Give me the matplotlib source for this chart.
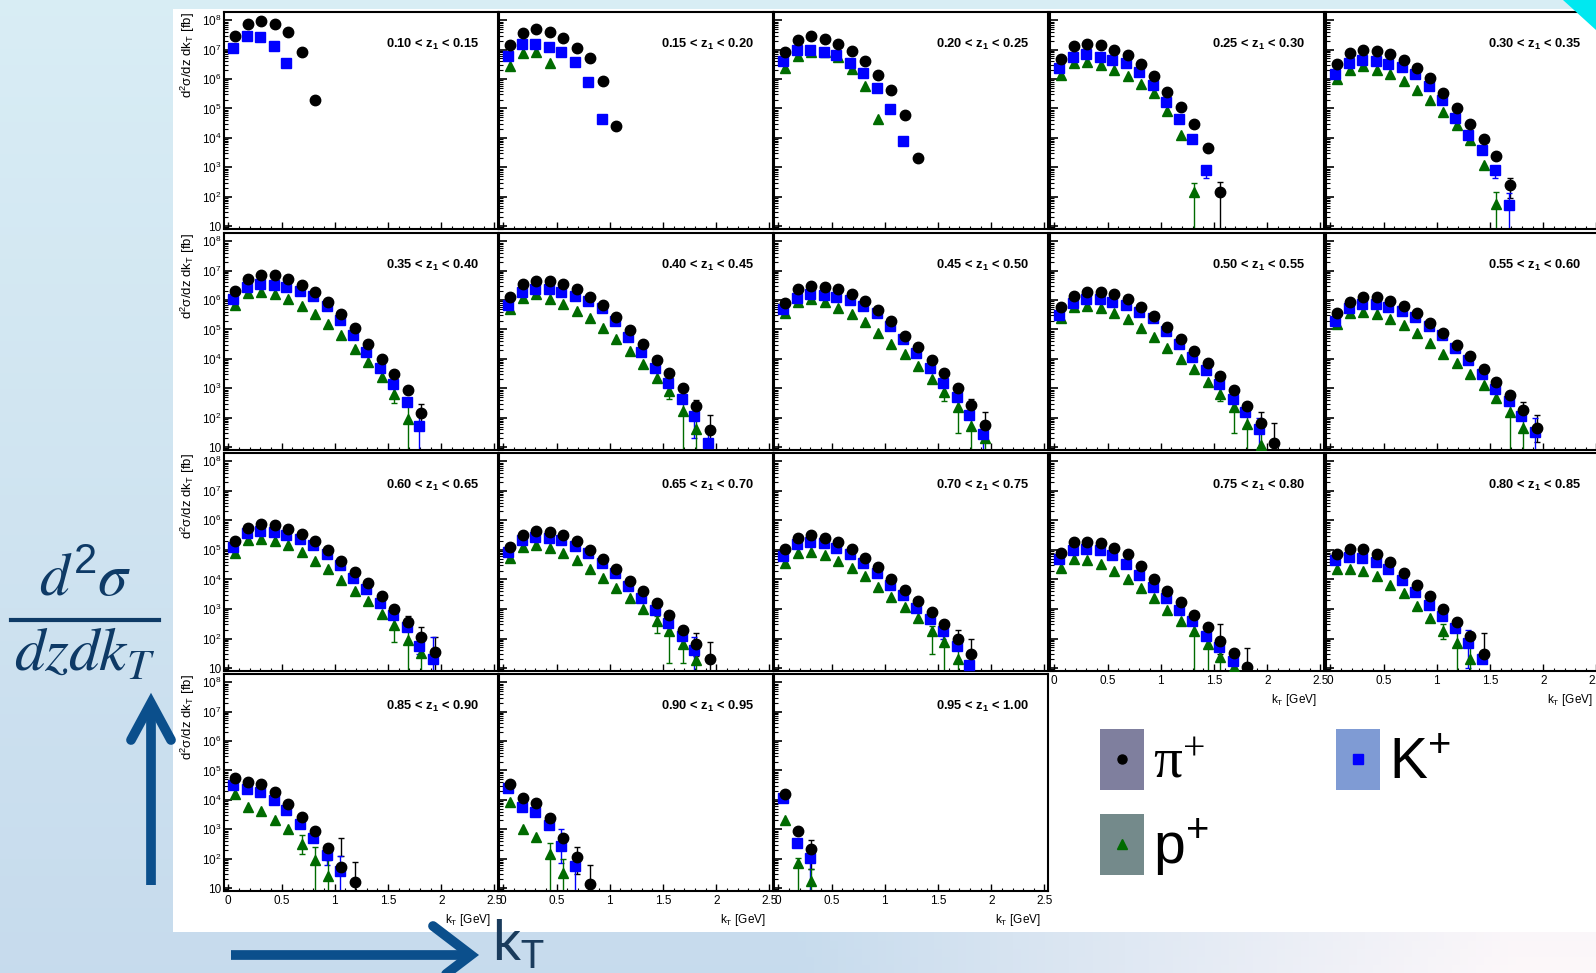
import numpy as np
import matplotlib
matplotlib.use("Agg")
import matplotlib.pyplot as plt
from matplotlib.lines import Line2D
from matplotlib.patches import Rectangle, Polygon
from matplotlib.ticker import LogLocator, MultipleLocator, FuncFormatter, NullFormatter

# ---------------- DATA ----------------

Z_EDGES = ["0.10", "0.15", "0.20", "0.25", "0.30", "0.35", "0.40", "0.45", "0.50", "0.55",
           "0.60", "0.65", "0.70", "0.75", "0.80", "0.85", "0.90", "0.95", "1.00"]

KT_BINS = [0.06, 0.19, 0.31, 0.44, 0.56, 0.69, 0.81, 0.94, 1.06,
           1.19, 1.31, 1.44, 1.56, 1.69, 1.81, 1.94, 2.06]

# d2sigma/dz dkT [fb], one list per z bin
PION = [
    [2.8e7, 7.7e7, 9.3e7, 7.7e7, 4.0e7, 8.5e6, 2.0e5],
    [1.4e7, 3.7e7, 4.9e7, 4.0e7, 2.5e7, 1.15e7, 5.0e6, 8.3e5, 2.6e4],
    [8.6e6, 2.1e7, 2.9e7, 2.3e7, 1.6e7, 8.9e6, 4.0e6, 1.4e6, 4.1e5, 6.0e4, 2.0e3],
    [4.9e6, 1.3e7, 1.6e7, 1.4e7, 1.0e7, 6.6e6, 3.3e6, 1.3e6, 3.7e5, 1.1e5, 3.0e4, 4.6e3, 150],
    [3.2e6, 7.5e6, 9.8e6, 9.0e6, 6.9e6, 4.4e6, 2.3e6, 1.05e6, 3.4e5, 1.0e5, 2.9e4, 9.3e3, 2.4e3, 250],
    [2.1e6, 5.2e6, 6.9e6, 6.9e6, 5.2e6, 3.3e6, 1.9e6, 8.9e5, 3.4e5, 1.1e5, 3.2e4, 1.0e4, 3.0e3, 850, 145],
    [1.26e6, 3.6e6, 4.5e6, 4.3e6, 3.5e6, 2.3e6, 1.3e6, 6.8e5, 2.6e5, 9.3e4, 3.1e4, 9.4e3, 3.3e3, 1.0e3, 245, 39],
    [8.2e5, 2.4e6, 3.0e6, 2.7e6, 2.3e6, 1.6e6, 9.3e5, 4.6e5, 2.0e5, 6.1e4, 2.6e4, 8.9e3, 3.2e3, 1.0e3, 275, 58],
    [6.0e5, 1.4e6, 1.9e6, 1.9e6, 1.6e6, 1.07e6, 6.0e5, 2.9e5, 1.2e5, 4.9e4, 1.9e4, 7.4e3, 2.6e3, 850, 245, 65, 14],
    [3.7e5, 8.9e5, 1.25e6, 1.25e6, 9.3e5, 6.3e5, 3.5e5, 1.7e5, 7.3e4, 2.9e4, 1.26e4, 4.7e3, 1.7e3, 600, 183, 45],
    [2.0e5, 5.7e5, 7.5e5, 6.9e5, 5.0e5, 3.4e5, 2.0e5, 1.0e5, 4.2e4, 1.8e4, 7.7e3, 2.8e3, 1.0e3, 350, 112, 36],
    [1.3e5, 3.2e5, 4.5e5, 4.1e5, 3.2e5, 2.0e5, 1.0e5, 5.0e4, 2.3e4, 8.7e3, 4.2e3, 1.6e3, 640, 200, 66, 20],
    [1.05e5, 2.6e5, 3.2e5, 2.6e5, 1.9e5, 1.1e5, 5.5e4, 2.6e4, 1.05e4, 4.5e3, 1.9e3, 800, 310, 98, 30],
    [7.7e4, 1.8e5, 1.9e5, 1.7e5, 1.2e5, 7.1e4, 2.8e4, 1.05e4, 4.0e3, 1.7e3, 640, 245, 86, 32, 11],
    [7.1e4, 1.1e5, 1.05e5, 7.1e4, 3.9e4, 1.7e4, 6.7e3, 2.7e3, 1.0e3, 350, 126, 29],
    [5.6e4, 4.1e4, 3.4e4, 1.8e4, 7.2e3, 2.6e3, 850, 240, 51, 16],
    [3.6e4, 1.2e4, 7.6e3, 2.4e3, 505, 116, 14],
    [1.6e4, 875, 220],
]

KAON = [
    [1.1e7, 2.8e7, 2.6e7, 1.3e7, 3.4e6],
    [6.0e6, 1.5e7, 1.6e7, 1.2e7, 8.3e6, 3.9e6, 8.1e5, 4.4e4],
    [4.1e6, 9.8e6, 1.0e7, 8.5e6, 6.6e6, 3.6e6, 1.6e6, 5.0e5, 9.3e4, 8.1e3],
    [2.4e6, 5.8e6, 7.1e6, 5.8e6, 4.4e6, 3.4e6, 1.7e6, 6.3e5, 1.7e5, 4.5e4, 9.3e3, 780],
    [1.45e6, 3.6e6, 4.5e6, 4.1e6, 3.3e6, 2.5e6, 1.45e6, 6.0e5, 2.0e5, 4.8e4, 1.3e4, 4.0e3, 800, 52],
    [1.1e6, 2.8e6, 3.5e6, 3.3e6, 2.8e6, 2.0e6, 1.35e6, 6.5e5, 2.1e5, 6.4e4, 1.7e4, 5.0e3, 1.35e3, 330, 52],
    [6.8e5, 1.85e6, 2.3e6, 2.3e6, 1.85e6, 1.4e6, 9.3e5, 5.3e5, 2.0e5, 5.6e4, 1.7e4, 5.0e3, 1.5e3, 440, 118, 14],
    [5.0e5, 1.2e6, 1.6e6, 1.5e6, 1.25e6, 1.0e6, 6.5e5, 3.5e5, 1.35e5, 4.9e4, 1.6e4, 5.0e3, 1.5e3, 500, 124, 28],
    [3.2e5, 8.1e5, 1.07e6, 1.07e6, 8.9e5, 6.8e5, 4.0e5, 2.4e5, 9.1e4, 3.2e4, 1.2e4, 4.1e3, 1.4e3, 440, 152, 41],
    [2.0e5, 5.5e5, 7.4e5, 7.4e5, 6.0e5, 4.4e5, 2.7e5, 1.35e5, 6.4e4, 2.4e4, 9.0e3, 3.0e3, 960, 360, 118, 32],
    [1.3e5, 3.6e5, 4.5e5, 4.1e5, 3.2e5, 2.3e5, 1.5e5, 7.1e4, 3.1e4, 1.15e4, 4.8e3, 1.6e3, 630, 255, 56, 20],
    [8.7e4, 2.1e5, 2.8e5, 2.6e5, 2.1e5, 1.4e5, 7.8e4, 3.7e4, 1.6e4, 6.2e3, 2.4e3, 950, 335, 123, 41],
    [6.3e4, 1.56e5, 1.9e5, 1.7e5, 1.2e5, 7.1e4, 3.7e4, 1.6e4, 6.7e3, 2.9e3, 1.08e3, 455, 175, 57, 13],
    [5.0e4, 1.0e5, 1.1e5, 1.0e5, 6.7e4, 3.3e4, 1.4e4, 5.6e3, 2.4e3, 900, 380, 126, 53, 18],
    [4.6e4, 5.9e4, 5.5e4, 3.9e4, 2.2e4, 9.3e3, 3.7e3, 1.4e3, 560, 228, 70, 20],
    [3.2e4, 2.3e4, 1.8e4, 1.0e4, 4.5e3, 1.5e3, 500, 138, 38],
    [2.6e4, 5.9e3, 3.8e3, 1.36e3, 272, 58],
    [1.2e4, 340, 102],
]

PROTON = [
    [],
    [2.8e6, 7.9e6, 8.3e6, 3.6e6],
    [2.4e6, 6.1e6, 8.5e6, 8.5e6, 5.7e6, 2.2e6, 6.0e5, 4.5e4],
    [1.4e6, 3.4e6, 3.9e6, 3.1e6, 2.1e6, 1.3e6, 7.0e5, 3.3e5, 8.5e4, 1.3e4, 150],
    [9.8e5, 2.1e6, 2.8e6, 2.1e6, 1.45e6, 8.6e5, 4.1e5, 1.9e5, 7.5e4, 2.8e4, 8.7e3, 1.2e3, 58],
    [6.7e5, 1.7e6, 1.95e6, 1.6e6, 1.07e6, 6.5e5, 3.3e5, 1.5e5, 6.4e4, 2.2e4, 7.9e3, 2.4e3, 660, 91],
    [4.9e5, 1.15e6, 1.6e6, 1.07e6, 7.4e5, 4.4e5, 2.4e5, 1.1e5, 4.7e4, 1.8e4, 6.9e3, 2.2e3, 800, 175, 41],
    [3.6e5, 8.4e5, 1.07e6, 8.4e5, 5.3e5, 3.4e5, 1.75e5, 7.3e4, 3.1e4, 1.5e4, 5.7e3, 2.1e3, 740, 230, 54, 21],
    [2.5e5, 5.7e5, 6.4e5, 5.5e5, 3.7e5, 2.2e5, 1.14e5, 5.6e4, 2.4e4, 1.0e4, 4.4e3, 1.6e3, 650, 230, 62, 12],
    [1.5e5, 3.7e5, 4.0e5, 3.4e5, 2.2e5, 1.4e5, 7.3e4, 3.5e4, 1.5e4, 7.2e3, 3.1e3, 1.25e3, 460, 160, 44],
    [8.1e4, 2.1e5, 2.3e5, 2.0e5, 1.45e5, 8.6e4, 4.2e4, 2.2e4, 9.5e3, 4.0e3, 1.8e3, 690, 295, 90, 32],
    [5.2e4, 1.26e5, 1.45e5, 1.14e5, 8.1e4, 4.6e4, 2.3e4, 1.15e4, 5.2e3, 2.4e3, 1.0e3, 380, 175, 66, 19],
    [3.5e4, 7.8e4, 8.6e4, 6.6e4, 4.2e4, 2.5e4, 1.3e4, 5.6e3, 2.5e3, 1.2e3, 490, 180, 79, 20],
    [2.5e4, 4.8e4, 4.6e4, 3.3e4, 1.9e4, 1.0e4, 5.2e3, 2.4e3, 950, 380, 175, 66, 23, 11],
    [2.3e4, 2.2e4, 2.0e4, 1.3e4, 6.7e3, 3.5e3, 1.3e3, 490, 180, 69, 21],
    [1.55e4, 5.9e3, 4.1e3, 2.1e3, 1.0e3, 325, 89, 25],
    [8.2e3, 1.05e3, 550, 150, 32],
    [2.0e3, 69, 17],
]

# visible error bars: (panel, species, bin, low, high); low None = down past the axis
ERRORS = [
    (3, "pi", 12, None, 310), (3, "K", 11, 450, 1000), (3, "p", 10, None, 300),
    (4, "pi", 13, 90, 420), (4, "K", 12, 450, 1000), (4, "K", 13, None, 130), (4, "p", 12, None, 150),
    (5, "pi", 14, 60, 300), (5, "K", 14, None, 130), (5, "p", 12, 310, 1300), (5, "p", 13, None, 300),
    (6, "pi", 14, 150, 400), (6, "pi", 15, None, 120), (6, "K", 14, 20, 250), (6, "K", 15, None, 40),
    (6, "p", 12, 450, 1300), (6, "p", 13, None, 400), (6, "p", 14, None, 150),
    (7, "pi", 14, 150, 450), (7, "pi", 15, 15, 160), (7, "K", 15, None, 60), (7, "p", 12, 380, 1100),
    (7, "p", 13, 30, 450), (7, "p", 14, None, 200), (7, "p", 15, None, 60),
    (8, "pi", 15, 30, 160), (8, "pi", 16, None, 66), (8, "K", 15, None, 100), (8, "p", 12, 380, 1100),
    (8, "p", 13, 30, 900), (8, "p", 14, None, 200), (8, "p", 15, None, 40),
    (9, "pi", 14, 100, 330), (9, "pi", 15, 15, 120), (9, "K", 15, None, 100), (9, "p", 13, None, 430),
    (9, "p", 14, None, 150),
    (10, "pi", 13, 200, 560), (10, "pi", 14, 50, 250), (10, "pi", 15, None, 110), (10, "K", 14, 30, 110),
    (10, "K", 15, None, 110), (10, "p", 12, 75, 750), (10, "p", 13, None, 250), (10, "p", 14, None, 100),
    (11, "pi", 14, 25, 150), (11, "pi", 15, None, 75), (11, "K", 14, None, 110), (11, "p", 11, 150, 600),
    (11, "p", 12, 15, 330), (11, "p", 13, 15, 170), (11, "p", 14, None, 50),
    (12, "pi", 13, 50, 200), (12, "pi", 14, None, 100), (12, "K", 12, 100, 300), (12, "p", 11, 30, 270),
    (12, "p", 12, None, 200), (12, "p", 13, None, 60),
    (13, "pi", 12, 30, 300), (13, "pi", 14, None, 48), (13, "p", 10, None, 300), (13, "p", 11, None, 150),
    (13, "p", 12, None, 50),
    (14, "pi", 11, 15, 150), (14, "K", 10, 10, 200), (14, "p", 8, 100, 300), (14, "p", 9, None, 250),
    (14, "p", 10, None, 60),
    (15, "pi", 8, 120, 500), (15, "pi", 9, None, 75), (15, "K", 7, 60, 250), (15, "K", 8, None, 120),
    (15, "p", 5, 150, 650), (15, "p", 6, None, 250), (15, "p", 7, None, 90),
    (16, "pi", 5, 30, 250), (16, "pi", 6, None, 60), (16, "K", 4, 70, 1000), (16, "K", 5, None, 110),
    (16, "p", 3, None, 350), (16, "p", 4, None, 100),
    (17, "pi", 2, 45, 450), (17, "K", 2, None, 200), (17, "p", 1, None, 110), (17, "p", 2, None, 45),
]

# ---------------- STYLE ----------------

plt.rcParams["font.family"] = ["Liberation Sans", "DejaVu Sans"]
plt.rcParams["mathtext.fontset"] = "custom"
plt.rcParams["mathtext.rm"] = "Liberation Sans"
plt.rcParams["mathtext.it"] = "Liberation Sans:italic"
plt.rcParams["mathtext.bf"] = "Liberation Sans:bold"
plt.rcParams["mathtext.default"] = "regular"

W, H = 1596, 973


def fx(px):
    return px / W


def fy(py):
    return 1 - py / H


SPECIES = {
    "pi": dict(data=PION, marker="o", ms=7.5, color="black", dx=0.0, z=5),
    "K": dict(data=KAON, marker="s", ms=6.5, color="#0000ff", dx=-0.015, z=4),
    "p": dict(data=PROTON, marker="^", ms=6.5, color="#006b00", dx=0.0, z=3),
}

COL_LEFT = [224, 499, 774, 1050, 1326]
PANEL_W = 274
ROWS = [(12, 229), (233, 450), (453, 671), (674, 891)]
ARROW_BLUE = "#0b4f8c"
TEXT_NAVY = "#0e3a66"

fig = plt.figure(figsize=(W / 100, H / 100), dpi=100)

# ---------------- BACKGROUND ----------------

bg = fig.add_axes([0, 0, 1, 1], zorder=-10)
bg.axis("off")
gx, gy = np.meshgrid(np.linspace(0, 1, 200), np.linspace(0, 1, 120))
top_c = np.array([0.85, 0.93, 0.96])
bot_c = np.array([0.78, 0.86, 0.93])
right_c = np.array([0.99, 0.97, 0.98])
left_c = top_c[None, None, :] * (1 - gy[..., None]) + bot_c[None, None, :] * gy[..., None]
s = (np.clip((gx - 0.5) / 0.45, 0, 1) * gy)[..., None]
bg.imshow(left_c * (1 - s) + right_c * s, extent=[0, 1, 0, 1], aspect="auto", origin="upper")
bg.set_xlim(0, 1)
bg.set_ylim(0, 1)

fig.add_artist(Rectangle((fx(173), fy(932)), 1 - fx(173), fy(9) - fy(932),
                         transform=fig.transFigure, facecolor="white", edgecolor="none", zorder=-5))

# ---------------- PANELS ----------------

bottom_panels = {13, 14, 15, 16, 17}  # last row in each column


def ytick_fmt(v, pos):
    n = int(round(np.log10(v)))
    return "10" if n == 1 else "10$^{%d}$" % n


for i in range(18):
    r, c = divmod(i, 5)
    top, bot = ROWS[r]
    ax = fig.add_axes([fx(COL_LEFT[c]), fy(bot), PANEL_W / W, (bot - top) / H])
    ax.set_yscale("log")
    ax.set_xlim(-0.04, 2.533)
    ax.set_ylim(8, 1.9e8)

    for key, sp in SPECIES.items():
        vals = sp["data"][i]
        if not vals:
            continue
        x = np.array(KT_BINS[:len(vals)]) + sp["dx"]
        ax.plot(x, vals, linestyle="none", marker=sp["marker"], ms=sp["ms"],
                color=sp["color"], mec=sp["color"], zorder=sp["z"])

    for (pi_, key, b, lo, hi) in ERRORS:
        if pi_ != i:
            continue
        sp = SPECIES[key]
        xb = KT_BINS[b] + sp["dx"]
        ax.vlines(xb, lo if lo else 1, hi, color=sp["color"], lw=1.0, zorder=2)
        ax.plot([xb], [hi], marker="_", ms=5, mew=1.0, color=sp["color"], zorder=2)
        if lo:
            ax.plot([xb], [lo], marker="_", ms=5, mew=1.0, color=sp["color"], zorder=2)

    ax.text(0.93, 0.85, "%s < z$_\\mathbf{1}$ < %s" % (Z_EDGES[i], Z_EDGES[i + 1]),
            transform=ax.transAxes, ha="right", va="center", fontsize=9.3, fontweight="bold")

    for sp_ in ax.spines.values():
        sp_.set_linewidth(1.5)
    ax.xaxis.set_major_locator(MultipleLocator(0.5))
    ax.xaxis.set_minor_locator(MultipleLocator(0.1))
    ax.yaxis.set_major_locator(LogLocator(base=10, numticks=20))
    ax.yaxis.set_minor_locator(LogLocator(base=10, subs=np.arange(2, 10), numticks=20))
    ax.yaxis.set_minor_formatter(NullFormatter())
    ax.tick_params(which="both", direction="in", top=False, right=False)
    ax.tick_params(axis="y", which="major", length=6, width=1.2)
    ax.tick_params(axis="y", which="minor", length=3, width=0.8)
    ax.tick_params(axis="x", which="major", length=5, width=1.0)
    ax.tick_params(axis="x", which="minor", length=2.5, width=0.8)

    if c == 0:
        ax.yaxis.set_major_formatter(FuncFormatter(ytick_fmt))
        ax.tick_params(axis="y", labelsize=8.5, pad=2)
        ax.set_ylabel("d$^{2}$σ/dz dk$_{T}$ [fb]", fontsize=9.5, loc="top", labelpad=3)
    else:
        ax.tick_params(labelleft=False)

    if i in bottom_panels:
        ax.xaxis.set_major_formatter(FuncFormatter(lambda v, p: "%g" % v))
        ax.tick_params(axis="x", labelsize=8.5, pad=3)
        ax.set_xlabel("k$_{T}$ [GeV]", fontsize=8.5, loc="right")
        ax.xaxis.set_label_coords(0.972, -0.095)
    else:
        ax.tick_params(labelbottom=False)

# ---------------- LEGEND ----------------

legend_items = [
    ("π$^{+}$", "o", "black", "#7f7f9e", 1100, 729, "Liberation Serif"),
    ("K$^{+}$", "s", "#0000ff", "#7f9bd4", 1336, 729, "Liberation Sans"),
    ("p$^{+}$", "^", "#006b00", "#748a8b", 1100, 814, "Liberation Sans"),
]
for label, mk, col, box, bx, by, fam in legend_items:
    fig.add_artist(Rectangle((fx(bx), fy(by + 61)), 44 / W, 61 / H, transform=fig.transFigure,
                             facecolor=box, edgecolor="none"))
    fig.add_artist(Line2D([fx(bx + 22)], [fy(by + 30)], transform=fig.transFigure,
                          marker=mk, ms=6.5, color=col, linestyle="none"))
    fig.text(fx(bx + 53), fy(by + 49), label, fontsize=41, family=fam, va="baseline", ha="left")

# ---------------- AXIS ANNOTATIONS ----------------

fig.text(fx(85), fy(596), r"$\mathit{d}^2\mathit{\sigma}$", ha="center", va="baseline",
         fontsize=43, color=TEXT_NAVY, math_fontfamily="stix")
fig.add_artist(Line2D([fx(11), fx(159)], [fy(620), fy(620)], transform=fig.transFigure,
                      lw=3, color=TEXT_NAVY))
fig.text(fx(85), fy(670), r"$\mathit{dzdk}_{\mathit{T}}$", ha="center", va="baseline",
         fontsize=44, color=TEXT_NAVY, math_fontfamily="stix")

# vertical arrow
fig.add_artist(Line2D([fx(151), fx(151)], [fy(885), fy(705)], transform=fig.transFigure,
                      lw=7, color=ARROW_BLUE, solid_capstyle="butt"))
fig.add_artist(Line2D([fx(131), fx(151), fx(171)], [fy(740), fy(703), fy(740)],
                      transform=fig.transFigure, lw=7, color=ARROW_BLUE,
                      solid_capstyle="round", solid_joinstyle="miter"))

# horizontal arrow
fig.add_artist(Line2D([fx(231), fx(469)], [fy(955), fy(955)], transform=fig.transFigure,
                      lw=7, color=ARROW_BLUE, solid_capstyle="butt"))
fig.add_artist(Line2D([fx(433), fx(471), fx(433)], [fy(926), fy(955), fy(984)],
                      transform=fig.transFigure, lw=7, color=ARROW_BLUE,
                      solid_capstyle="round", solid_joinstyle="miter"))
fig.text(fx(492), fy(960), "k$_{T}$", fontsize=40, color="#1a3b5c", family="Lato",
         ha="left", va="baseline")

# corner decoration
fig.add_artist(Polygon([(fx(1563), 1), (1, 1), (1, fy(30))], closed=True,
                       transform=fig.transFigure, facecolor="#00e8f0", edgecolor="none", zorder=10))

fig.savefig("out.png", dpi=100)
